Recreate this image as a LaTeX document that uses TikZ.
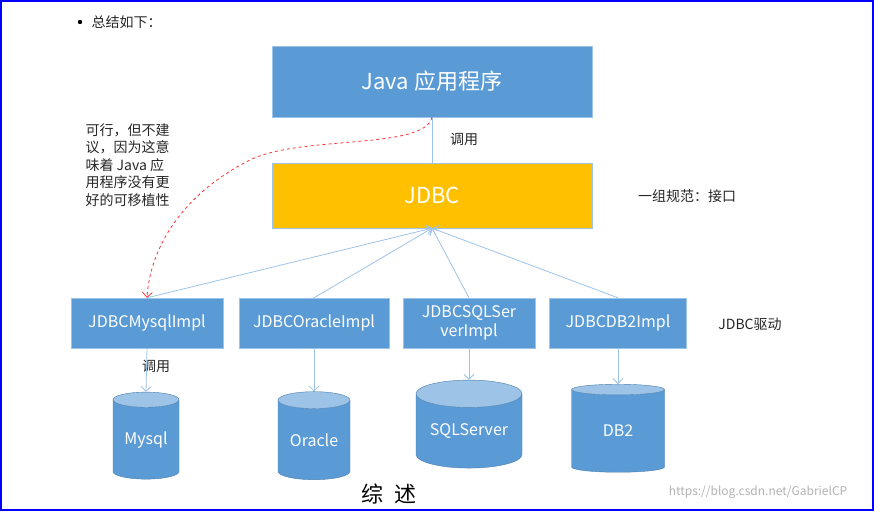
\documentclass[tikz,border=0pt]{standalone}
\usepackage{fontspec}
\setmainfont{Noto Sans CJK SC}
\usetikzlibrary{shapes.geometric,arrows.meta}
\definecolor{boxblue}{HTML}{5B9BD5}
\definecolor{lightblue}{HTML}{9DC3E6}
\definecolor{jdbcyellow}{HTML}{FFC000}
\begin{document}
\begin{tikzpicture}[x=1pt,y=-1pt,
  box/.style={draw=lightblue,fill=boxblue,text=white,align=center,inner sep=0pt,font=\fontsize{16}{19}\selectfont},
  db/.style={cylinder,shape border rotate=90,draw=boxblue!80!black,cylinder uses custom fill,
    cylinder body fill=boxblue,cylinder end fill=lightblue,text=white,inner sep=0pt,aspect=0.35,font=\fontsize{16}{19}\selectfont},
  link/.style={draw=lightblue,line width=0.8pt,-{Straight Barb[length=5pt]}},
  lbl/.style={font=\fontsize{14}{17}\selectfont,text=black!85,align=left}]
\useasboundingbox (0,0) rectangle (874,511);
\draw[blue,line width=1.2pt] (1,1) rectangle (873,510);
% bullet
\fill (80,22) circle (2.2pt);
\node[lbl,anchor=west] (head) at (88,22) {总结如下：};
% main boxes
\node[box,minimum width=320pt,minimum height=71pt,font=\fontsize{22}{26}\selectfont] (java) at (432,81.5) {Java 应用程序};
\node[box,fill=jdbcyellow,minimum width=320pt,minimum height=65pt,font=\fontsize{22}{26}\selectfont] (jdbc) at (432,195.5) {JDBC};
% drivers
\node[box,minimum width=152pt,minimum height=50pt] (mysqlimpl) at (147,323) {JDBCMysqlImpl};
\node[box,minimum width=150pt,minimum height=50pt] (oracleimpl) at (314,323) {JDBCOracleImpl};
\node[box,minimum width=132pt,minimum height=50pt] (sqlimpl) at (469,323) {JDBCSQLSer\\verImpl};
\node[box,minimum width=137pt,minimum height=50pt] (db2impl) at (618,323) {JDBCDB2Impl};
% databases
\node[db,minimum width=66pt,minimum height=87pt] (mysql) at (146,439.5) {\raisebox{-6pt}{Mysql}};
\node[db,minimum width=72pt,minimum height=88pt] (oracle) at (314,440) {\raisebox{-6pt}{Oracle}};
\node[db,minimum width=106pt,minimum height=88pt] (sqlserver) at (469,431) {\raisebox{-6pt}{SQLServer}};
\node[db,minimum width=93pt,minimum height=88pt] (db2) at (618,431) {\raisebox{-6pt}{DB2}};
% labels
\node[lbl] (call1) at (464,139) {调用};
\node[lbl] (spec) at (687,196) {一组规范：接口};
\node[lbl] (drv) at (750,324) {JDBC驱动};
\node[lbl] (call2) at (156,366) {调用};
\node[lbl,anchor=north west,font=\fontsize{14}{17.5}\selectfont] (note) at (82,120)
  {可行，但不建\\议，因为这意\\味着 Java 应\\用程序没有更\\好的可移植性};
\node[font=\fontsize{22}{26}\selectfont] (title) at (389,494) {综\enspace 述};
\node[text=black!30,font=\fontsize{12}{14}\selectfont] (wm) at (758,492) {https://blog.csdn.net/GabrielCP};
% connectors
\draw[draw=lightblue,line width=0.8pt] (java.south) -- (jdbc.north);
\foreach \n in {mysqlimpl,oracleimpl,sqlimpl,db2impl}
  \draw[link] (\n.north) -- (jdbc.south);
\draw[link] (mysqlimpl.south) -- (mysql.top);
\draw[link] (oracleimpl.south) -- (oracle.top);
\draw[link] (sqlimpl.south) -- (sqlserver.top);
\draw[link] (db2impl.south) -- (db2.top);
\draw[red!80,dashed,line width=0.8pt,-{Straight Barb[length=5pt]}] (java.south)
  .. controls (425,150) and (300,135) .. (250,160)
  .. controls (180,195) and (150,250) .. (mysqlimpl.north);
\end{tikzpicture}
\end{document}
